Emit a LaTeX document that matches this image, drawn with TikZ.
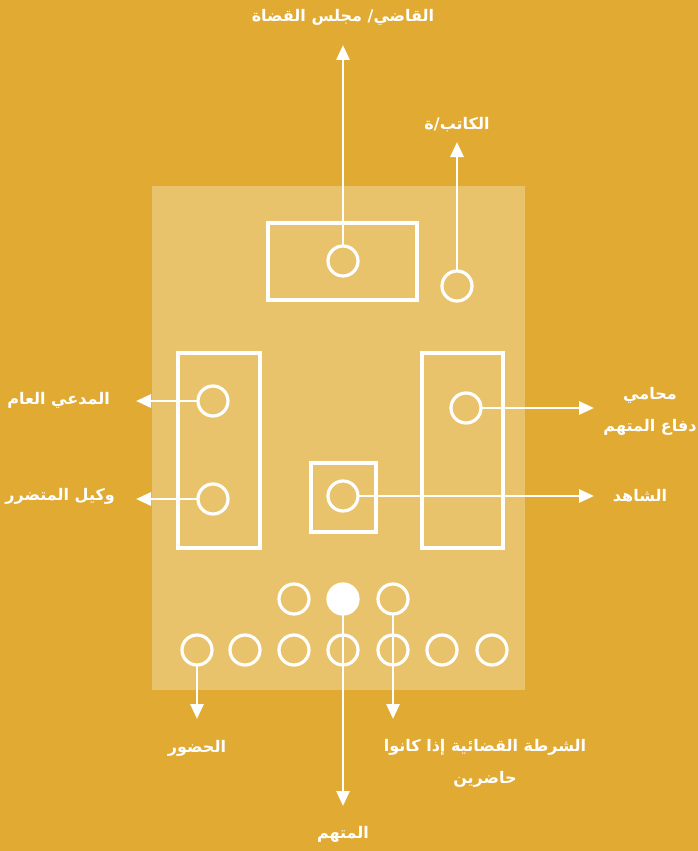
\documentclass[tikz,border=0pt]{standalone}
\usepackage{fontspec}
\usetikzlibrary{
    positioning,
    arrows.meta
}
\TeXXeTstate=1
\newfontfamily\arabicfont[Script=Arabic]{DejaVu Sans}
\definecolor{courtgold}{HTML}{E1AA33}
\definecolor{courtfloor}{HTML}{E9C36C}
\tikzset{%
    seat/.style={%
        circle,
        draw=white,
        line width=3.2pt,
        inner sep = 0pt,
        outer sep = 0pt,
        minimum size=30pt
    },
    empty seat/.style={%
        seat,
        fill=none,
    },
    taken seat/.style={%
        seat,
        fill=white,
    },
    bench/.style={%
        rectangle,
        draw=white,
        line width=3.2pt,
        inner sep = 0pt,
        outer sep = 0pt,
    },
    arrow/.style={%
        draw=white,
        line width=2.8pt,
        >={Triangle[length=15pt,width=13pt]},
    },
    role/.style={%
        text=white,
        align=center,
        font=\arabicfont\bfseries\fontsize{16}{32}\selectfont,
        inner sep=0pt,
    },
}

\begin{document}
\begin{tikzpicture}[x=1pt,y=-1pt]
    \fill[courtgold] (0,0) rectangle (698,851);
    \fill[courtfloor] (152,186) rectangle (525,690);

    % benches
    \node[bench, minimum width=149pt, minimum height=77pt] (judge bench) at (342.5,261.5) {};
    \node[bench, minimum width=82pt, minimum height=195pt] (prosecution bench) at (219,450.5) {};
    \node[bench, minimum width=81pt, minimum height=195pt] (defence bench) at (462.5,450.5) {};
    \node[bench, minimum width=65pt, minimum height=69pt] (witness box) at (343.5,497.5) {};

    % seats
    \node[empty seat] (judge) at (343,261) {};
    \node[empty seat] (clerk) at (457,286) {};
    \node[empty seat] (prosecutor) at (213,401) {};
    \node[empty seat] (plaintiff) at (213,499) {};
    \node[empty seat] (lawyer) at (466,408) {};
    \node[empty seat] (witness) at (343,496) {};

    \node[empty seat] (police1) at (294,599) {};
    \node[taken seat] (accused) at (343,599) {};
    \node[empty seat] (police2) at (393,599) {};

    \node[empty seat] (public1) at (197,650) {};
    \node[empty seat] (public2) at (245,650) {};
    \node[empty seat] (public3) at (294,650) {};
    \node[empty seat] (public4) at (343,650) {};
    \node[empty seat] (public5) at (393,650) {};
    \node[empty seat] (public6) at (442,650) {};
    \node[empty seat] (public7) at (492,650) {};

    % arrow ends
    \coordinate (judge end) at (343,45);
    \coordinate (clerk end) at (457,142);
    \coordinate (prosecutor end) at (136,401);
    \coordinate (plaintiff end) at (136,499);
    \coordinate (lawyer end) at (594,408);
    \coordinate (witness end) at (594,496);
    \coordinate (public end) at (197,719);
    \coordinate (accused end) at (343,806);
    \coordinate (police end) at (393,719);

    \draw[arrow, ->] (judge) to (judge end);
    \draw[arrow, ->] (clerk) to (clerk end);
    \draw[arrow, ->] (prosecutor) to (prosecutor end);
    \draw[arrow, ->] (plaintiff) to (plaintiff end);
    \draw[arrow, ->] (lawyer) to (lawyer end);
    \draw[arrow, ->] (witness) to (witness end);
    \draw[arrow, ->] (public1) to (public end);
    \draw[arrow, ->] (accused) to (accused end);
    \draw[arrow, ->] (police2) to (police end);

    % labels
    \node[role] (judge label) at (343,17) {\beginR القاضي/ مجلس القضاة\endR};
    \node[role] (clerk label) at (457,125) {\beginR الكاتب/ة\endR};
    \node[role, anchor=east] (prosecutor label) at (110,400) {\beginR المدعي العام\endR};
    \node[role, anchor=east] (plaintiff label) at (115,496) {\beginR وكيل المتضرر\endR};
    \node[role] (lawyer label) at (650,411) {\beginR محامي\endR\\\beginR دفاع المتهم\endR};
    \node[role] (witness label) at (640,496) {\beginR الشاهد\endR};
    \node[role] (public label) at (197,748) {\beginR الحضور\endR};
    \node[role] (accused label) at (343,834) {\beginR المتهم\endR};
    \node[role] (police label) at (485,763) {\beginR الشرطة القضائية إذا كانوا\endR\\\beginR حاضرين\endR};
\end{tikzpicture}
\end{document}
